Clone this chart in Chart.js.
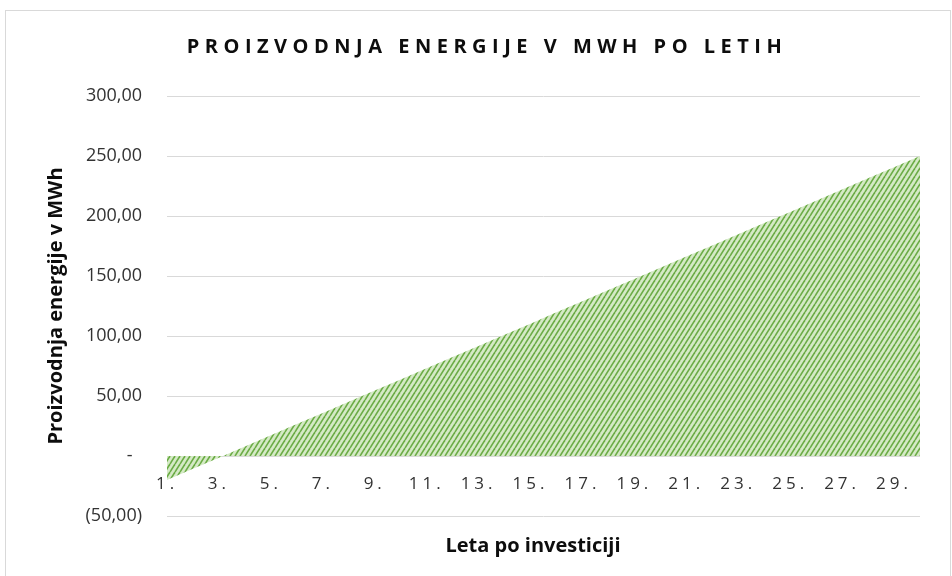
<!DOCTYPE html>
<html lang="sl">
<head>
<meta charset="utf-8">
<title>Proizvodnja energije v MWh po letih</title>
<script src="https://cdn.jsdelivr.net/npm/chart.js@4.4.1/dist/chart.umd.min.js"></script>
<style>
  html, body { margin: 0; padding: 0; background: #fff; }
  #wrap { width: 952px; height: 576px; }
</style>
</head>
<body>
<div id="wrap"><canvas id="chart" width="952" height="576"></canvas></div>
<script>
// ---- podatki ----
const years = ['1.', '2.', '3.', '4.', '5.', '6.', '7.', '8.', '9.', '10.',
               '11.', '12.', '13.', '14.', '15.', '16.', '17.', '18.', '19.', '20.',
               '21.', '22.', '23.', '24.', '25.', '26.', '27.', '28.', '29.', '30.'];

const energyMWh = [-20.0, -10.7, -1.4, 7.9, 17.2, 26.6, 35.9, 45.2, 54.5, 63.8,
                   73.1, 82.4, 91.7, 101.0, 110.3, 119.7, 129.0, 138.3, 147.6, 156.9,
                   166.2, 175.5, 184.8, 194.1, 203.4, 212.8, 222.1, 231.4, 240.7, 250.0];

const yMin = -50;
const yMax = 300;
const yStep = 50;

const chartTitle = 'PROIZVODNJA ENERGIJE V MWH PO LETIH';
const xAxisTitle = 'Leta po investiciji';
const yAxisTitle = 'Proizvodnja energije v MWh';

const FONT = "'Open Sans', 'Noto Sans', sans-serif";

// oblika stevilk kot v Excelu: 300,00 / - / (50,00)
function fmtAccounting(v) {
    if (v === 0) return '-  ';
    const s = Math.abs(v).toFixed(2).replace('.', ',');
    return v < 0 ? '(' + s + ')' : s;
}

// crtkano polnilo (diagonalne crte)
function hatchPattern(ctx) {
    const c = document.createElement('canvas');
    c.width = 5;
    c.height = 8;
    const g = c.getContext('2d');
    g.fillStyle = '#d5eac6';
    g.fillRect(0, 0, c.width, c.height);
    g.strokeStyle = '#6aab44';
    g.lineWidth = 1.6;
    for (const x0 of [-5, 0, 5]) {
        g.beginPath();
        g.moveTo(x0, 8);
        g.lineTo(x0 + 5, 0);
        g.stroke();
    }
    return ctx.createPattern(c, 'repeat');
}

const framePlugin = {
    id: 'frame',
    beforeDraw(chart) {
        const ctx = chart.ctx;
        ctx.save();
        ctx.strokeStyle = '#d9d9d9';
        ctx.lineWidth = 1;
        ctx.strokeRect(5.5, 10.5, 945, 570);
        ctx.restore();
    },
    afterDatasetsDraw(chart) {
        // x oznake (ticks.z = 1) se risejo za tem - razmaknjene crke
        chart.ctx.letterSpacing = '4px';
    },
    afterDraw(chart) {
        const ctx = chart.ctx;
        ctx.letterSpacing = '0px';
        ctx.save();
        ctx.fillStyle = '#0d0d0d';
        ctx.textAlign = 'center';
        ctx.textBaseline = 'alphabetic';
        ctx.font = 'bold 20px ' + FONT;
        ctx.letterSpacing = '5.5px';
        ctx.fillText(chartTitle, 487, 53);
        ctx.letterSpacing = '0px';
        ctx.font = 'bold 20px ' + FONT;
        ctx.fillText(xAxisTitle, 533, 552);
        ctx.restore();
    }
};

const canvas = document.getElementById('chart');
const ctx = canvas.getContext('2d');

new Chart(ctx, {
    type: 'line',
    data: {
        labels: years,
        datasets: [{
            label: yAxisTitle,
            data: energyMWh,
            fill: 'origin',
            backgroundColor: hatchPattern(ctx),
            borderColor: 'rgba(0,0,0,0)',
            borderWidth: 0,
            pointRadius: 0,
            tension: 0
        }]
    },
    options: {
        responsive: false,
        animation: false,
        devicePixelRatio: 1,
        layout: { padding: { left: 0, right: 32, top: 96, bottom: 60 } },
        plugins: {
            legend: { display: false },
            tooltip: { enabled: false },
            title: { display: false }
        },
        scales: {
            x: {
                position: { y: 0 },
                offset: false,
                grid: { display: false, drawTicks: false },
                border: { display: false },
                ticks: {
                    z: 1,
                    autoSkip: false,
                    maxRotation: 0,
                    padding: 18,
                    color: '#333333',
                    font: { family: FONT, size: 17 },
                    callback: (v, i) => (i % 2 === 0 ? years[i] : '')
                },
                afterFit: s => { s.height = 0; }
            },
            y: {
                min: yMin,
                max: yMax,
                ticks: {
                    stepSize: yStep,
                    padding: 25,
                    color: '#333333',
                    font: { family: FONT, size: 18 },
                    callback: v => fmtAccounting(v)
                },
                grid: { color: '#d9d9d9', lineWidth: 1, drawTicks: false },
                border: { display: false },
                title: {
                    display: true,
                    text: yAxisTitle,
                    color: '#0d0d0d',
                    font: { family: FONT, size: 20, weight: 'bold' },
                    padding: { top: 44, bottom: 0 }
                },
                afterFit: s => { s.width = 167; }
            }
        }
    },
    plugins: [framePlugin]
});
</script>
</body>
</html>
